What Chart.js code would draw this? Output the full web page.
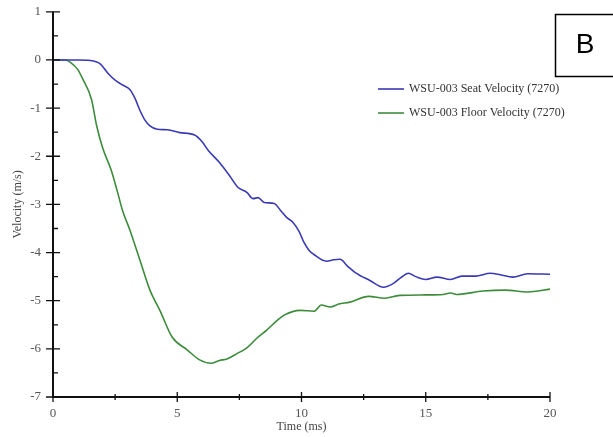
<!DOCTYPE html>
<html>
<head>
<meta charset="utf-8">
<script src="https://cdn.jsdelivr.net/npm/chart.js@4.4.1/dist/chart.umd.min.js"></script>
<style>
    html, body { margin: 0; padding: 0; background: #fff; }
    #wrap { width: 613px; height: 437px; }
</style>
</head>
<body>
<div id="wrap"><canvas id="velChart" width="613" height="437"></canvas></div>
<script>
// time (ms) / velocity (m/s)
const seatTime = [0, 1.0, 1.5, 1.9, 2.2, 2.5, 2.8, 3.1, 3.3, 3.5, 3.7, 3.9, 4.2, 4.6, 5.1, 5.7, 6.0, 6.25, 6.7, 7.1, 7.45, 7.8, 8.05, 8.25, 8.5, 8.9, 9.15, 9.4, 9.65, 9.9, 10.1, 10.3, 10.5, 11.0, 11.3, 11.55, 11.85, 12.15, 12.75, 13.3, 13.7, 14.0, 14.3, 14.6, 15.0, 15.45, 16.0, 16.45, 17.0, 17.6, 18.0, 18.5, 19.1, 20];
const seatVel = [0, 0, -0.01, -0.08, -0.27, -0.42, -0.52, -0.62, -0.8, -1.05, -1.25, -1.37, -1.44, -1.45, -1.51, -1.56, -1.7, -1.88, -2.13, -2.4, -2.65, -2.75, -2.88, -2.86, -2.96, -2.98, -3.12, -3.27, -3.37, -3.56, -3.79, -3.95, -4.04, -4.18, -4.15, -4.14, -4.28, -4.41, -4.58, -4.72, -4.64, -4.52, -4.43, -4.5, -4.56, -4.51, -4.56, -4.49, -4.49, -4.43, -4.46, -4.51, -4.44, -4.45];

const floorTime = [0, 0.5, 0.7, 1.0, 1.2, 1.55, 1.75, 2.0, 2.35, 2.6, 2.8, 3.1, 3.5, 3.9, 4.3, 4.8, 5.4, 5.9, 6.35, 6.7, 7.0, 7.4, 7.8, 8.2, 8.6, 9.0, 9.3, 9.95, 10.5, 10.8, 11.15, 11.5, 11.95, 12.7, 13.35, 13.95, 15.0, 15.7, 16.0, 16.25, 17.3, 18.2, 19.1, 20];
const floorVel = [0, 0, -0.05, -0.2, -0.4, -0.82, -1.35, -1.83, -2.3, -2.75, -3.13, -3.54, -4.16, -4.78, -5.2, -5.76, -6.02, -6.23, -6.3, -6.24, -6.21, -6.1, -5.98, -5.78, -5.61, -5.42, -5.3, -5.2, -5.22, -5.09, -5.13, -5.07, -5.03, -4.91, -4.95, -4.89, -4.88, -4.87, -4.84, -4.87, -4.8, -4.78, -4.82, -4.76];

const seriesLabels = ['WSU-003 Seat Velocity (7270)', 'WSU-003 Floor Velocity (7270)'];
const seriesColors = ['#3a3ab4', '#3c8c3c'];
const panelLetter = 'B';

const xRange = [0, 20];
const yRange = [-7, 1];

const toPoints = (xs, ys) => xs.map((x, i) => ({ x: x, y: ys[i] }));

const serif = 'Liberation Serif, Times New Roman, serif';

// axis lines, crossing ticks, legend and the panel box
const decorPlugin = {
    id: 'decor',
    afterDraw(chart) {
        const ctx = chart.ctx;
        const xs = chart.scales.x, ys = chart.scales.y;
        const x0 = xs.getPixelForValue(0);
        const y0 = ys.getPixelForValue(yRange[0]);

        ctx.save();
        ctx.strokeStyle = '#111';
        ctx.lineWidth = 2;
        ctx.beginPath();
        ctx.moveTo(x0, ys.getPixelForValue(yRange[1]));
        ctx.lineTo(x0, y0);
        ctx.lineTo(xs.getPixelForValue(xRange[1]), y0);
        ctx.stroke();

        ctx.lineWidth = 1.3;
        ctx.beginPath();
        for (let v = yRange[0]; v <= yRange[1]; v += 0.5) {
            const p = ys.getPixelForValue(v);
            const major = Number.isInteger(v);
            ctx.moveTo(major ? x0 - 7 : x0 - 1, p);
            ctx.lineTo(major ? x0 + 7 : x0 + 5, p);
        }
        for (let t = xRange[0]; t <= xRange[1]; t += 2.5) {
            const p = xs.getPixelForValue(t);
            const major = t % 5 === 0;
            ctx.moveTo(p, major ? y0 - 5 : y0 - 3);
            ctx.lineTo(p, major ? y0 + 5 : y0 + 3);
        }
        ctx.stroke();

        // legend
        ctx.font = '12px ' + serif;
        ctx.textBaseline = 'middle';
        ctx.textAlign = 'left';
        chart.data.datasets.forEach((ds, i) => {
            const ly = 89 + i * 24;
            ctx.strokeStyle = ds.borderColor;
            ctx.lineWidth = 1.6;
            ctx.beginPath();
            ctx.moveTo(378, ly);
            ctx.lineTo(404, ly);
            ctx.stroke();
            ctx.fillStyle = '#333';
            ctx.fillText(ds.label, 409, ly);
        });

        // panel letter box
        ctx.strokeStyle = '#000';
        ctx.lineWidth = 1.5;
        ctx.strokeRect(555.5, 14.5, 70, 62);
        ctx.fillStyle = '#000';
        ctx.font = '28px Liberation Sans, Arial, sans-serif';
        ctx.textAlign = 'center';
        ctx.fillText(panelLetter, 585, 45);
        ctx.restore();
    }
};

new Chart(document.getElementById('velChart'), {
    type: 'line',
    data: {
        datasets: [
            { label: seriesLabels[0], data: toPoints(seatTime, seatVel), borderColor: seriesColors[0], borderWidth: 1.6, pointRadius: 0, cubicInterpolationMode: 'monotone', fill: false },
            { label: seriesLabels[1], data: toPoints(floorTime, floorVel), borderColor: seriesColors[1], borderWidth: 1.6, pointRadius: 0, cubicInterpolationMode: 'monotone', fill: false }
        ]
    },
    options: {
        responsive: false,
        animation: false,
        layout: { padding: { left: 0, right: 63, top: 0, bottom: 0 } },
        plugins: { legend: { display: false }, tooltip: { enabled: false } },
        scales: {
            x: {
                type: 'linear',
                min: xRange[0], max: xRange[1],
                afterFit: s => { s.height = 40; },
                grid: { display: false },
                border: { display: false },
                ticks: { stepSize: 5, padding: 1, color: '#555', font: { family: serif, size: 13 }, maxRotation: 0 },
                title: { display: true, text: 'Time (ms)', color: '#444', font: { family: serif, size: 12 }, padding: { top: 0, bottom: 3 } }
            },
            y: {
                min: yRange[0], max: yRange[1],
                afterFit: s => { s.width = 53; },
                grid: { display: false },
                border: { display: false },
                ticks: { stepSize: 1, padding: 4, color: '#555', font: { family: serif, size: 13 } },
                title: { display: true, text: 'Velocity (m/s)', color: '#444', font: { family: serif, size: 12 }, padding: { top: 11, bottom: 0 } }
            }
        }
    },
    plugins: [decorPlugin]
});
</script>
</body>
</html>
